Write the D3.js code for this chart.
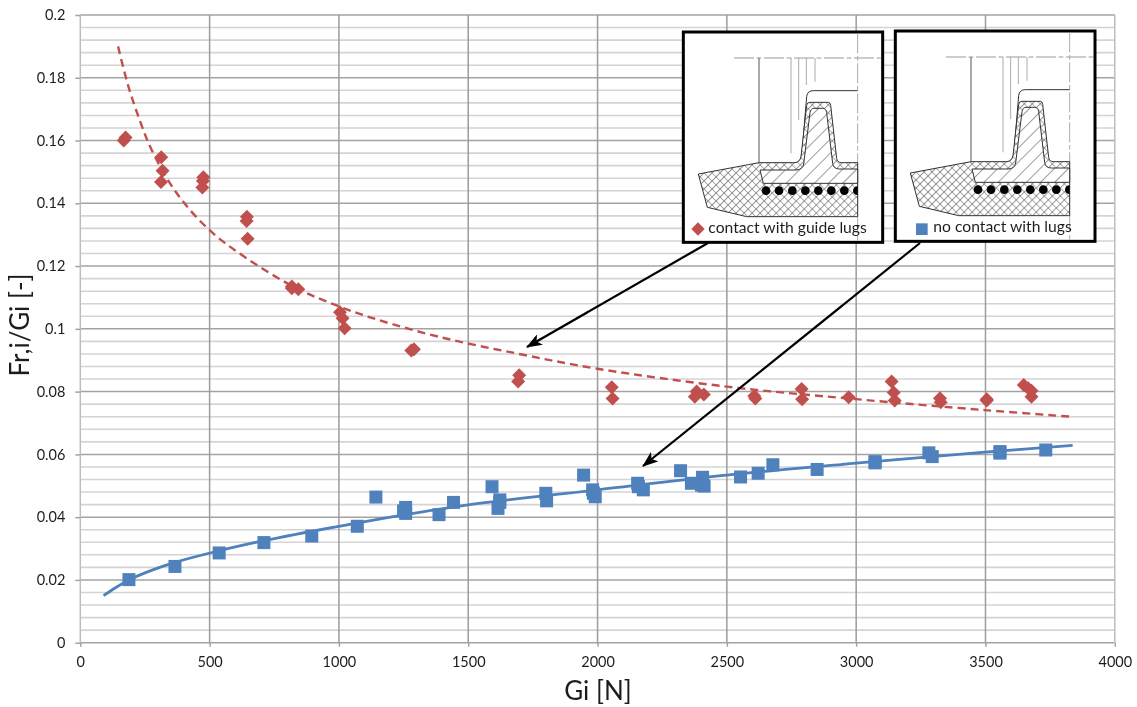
<!DOCTYPE html>
<html>
<head>
<meta charset="utf-8">
<script src="https://cdnjs.cloudflare.com/ajax/libs/d3/7.8.5/d3.min.js"></script>
<style>
    html, body { margin: 0; padding: 0; background: #fff; }
    svg { display: block; }
    text { font-family: Lato, "Open Sans", sans-serif; fill: #1f1f1f; }
</style>
</head>
<body>
<div id="data-vis"></div>
<script>
//DATA
//Red diamonds: contact with guide lugs
const contactGi = [168, 175, 313, 318, 312, 476, 474, 472, 644, 643, 647, 818, 843, 818, 1004, 1014, 1022, 1280, 1290,
    1697, 1693, 2055, 2058, 2383, 2376, 2411, 2606, 2610, 2789, 2791, 2971, 3137, 3145, 3149, 3324, 3327, 3505, 3505,
    3648, 3665, 3678, 3678];
const contactRatio = [0.1600, 0.1610, 0.1547, 0.1504, 0.1468, 0.1483, 0.1471, 0.1450, 0.1357, 0.1344, 0.1287, 0.1129, 0.1126, 0.1135, 0.1053, 0.1034, 0.1002, 0.0931, 0.0935,
    0.0852, 0.0832, 0.0814, 0.0778, 0.0800, 0.0784, 0.0791, 0.0786, 0.0778, 0.0808, 0.0776, 0.0782, 0.0832, 0.0797, 0.0772, 0.0779, 0.0766, 0.0776, 0.0772,
    0.0821, 0.0811, 0.0803, 0.0784];

//Blue squares: no contact with lugs
const freeGi = [188, 366, 537, 710, 895, 1071, 1143, 1258, 1258, 1250, 1387, 1443, 1592, 1622, 1622, 1615, 1800, 1803,
    1946, 1981, 1984, 1991, 2155, 2158, 2177, 2321, 2363, 2406, 2402, 2412, 2553, 2621, 2678, 2849, 3073, 3073,
    3281, 3294, 3556, 3556, 3733];
const freeRatio = [0.0201, 0.0243, 0.0286, 0.0319, 0.0340, 0.0371, 0.0464, 0.0431, 0.0412, 0.0420, 0.0408, 0.0447, 0.0497, 0.0455, 0.0447, 0.0428, 0.0476, 0.0452,
    0.0534, 0.0487, 0.0476, 0.0465, 0.0508, 0.0497, 0.0487, 0.0548, 0.0508, 0.0527, 0.0502, 0.0499, 0.0528, 0.0540, 0.0567, 0.0552, 0.0577, 0.0573,
    0.0605, 0.0593, 0.0609, 0.0604, 0.0614];

//Trend lines
const contactTrendGi = [146, 185, 231, 276, 373, 499, 643, 837, 999, 1146, 1400, 1697, 1999, 2499, 2999, 3498, 3833];
const contactTrendRatio = [0.190, 0.1775, 0.1662, 0.1570, 0.1432, 0.1315, 0.1225, 0.1129, 0.1072, 0.1030, 0.0972, 0.0920, 0.0873, 0.0816, 0.0776, 0.0741, 0.0720];
const freeTrendGi = [90, 130, 188, 280, 366, 537, 710, 1000, 1250, 1499, 1999, 2499, 2999, 3498, 3837];
const freeTrendRatio = [0.0150, 0.0172, 0.0200, 0.0232, 0.0256, 0.0293, 0.0325, 0.0371, 0.0407, 0.0439, 0.0487, 0.0534, 0.0572, 0.0607, 0.0629];

//Tick labels
const xTicks = [0, 500, 1000, 1500, 2000, 2500, 3000, 3500, 4000];
const yTicks = [0, 0.02, 0.04, 0.06, 0.08, 0.1, 0.12, 0.14, 0.16, 0.18, 0.2];
const yMinorTicks = [0.004, 0.008, 0.012, 0.016, 0.024, 0.028, 0.032, 0.036, 0.044, 0.048, 0.052, 0.056, 0.064, 0.068, 0.072, 0.076,
    0.084, 0.088, 0.092, 0.096, 0.104, 0.108, 0.112, 0.116, 0.124, 0.128, 0.132, 0.136, 0.144, 0.148, 0.152, 0.156, 0.164, 0.168, 0.172, 0.176,
    0.184, 0.188, 0.192, 0.196];

//SCRIPT PROPERTIES
const w = 1137;
const h = 707;
const red = "#c0504d";
const blue = "#4f81bd";

const x = d3.scaleLinear().domain([0, 4000]).range([80.3, 1114.8]);
const y = d3.scaleLinear().domain([0, 0.2]).range([642.7, 15]);

const svg = d3.select("#data-vis")
    .append("svg")
    .attr("width", w)
    .attr("height", h);

const defs = svg.append("defs");

//Slight softening, the reference is a scaled bitmap
defs.append("filter").attr("id", "soft")
    .append("feGaussianBlur").attr("stdDeviation", 0.45);

//Cross hatch for the rubber
const cross = defs.append("pattern").attr("id", "crossHatch")
    .attr("width", 17).attr("height", 17)
    .attr("patternUnits", "userSpaceOnUse")
    .attr("patternTransform", "rotate(45)");
cross.append("rect").attr("width", 17).attr("height", 17).attr("fill", "#fff");
cross.append("path").attr("d", "M0 0H17M0 0V17").attr("stroke", "#555").attr("stroke-width", 3.5).attr("fill", "none");

//Diagonal hatch for the cord
const diag = defs.append("pattern").attr("id", "diagHatch")
    .attr("width", 30).attr("height", 30)
    .attr("patternUnits", "userSpaceOnUse")
    .attr("patternTransform", "rotate(-45)");
diag.append("rect").attr("width", 30).attr("height", 30).attr("fill", "#fff");
diag.append("path").attr("d", "M0 0H30").attr("stroke", "#555").attr("stroke-width", 3.5);

//The section is cut off at its centre line
defs.append("clipPath").attr("id", "sectionClip")
    .append("rect").attr("x", 0).attr("y", 0).attr("width", 533).attr("height", 660);

defs.append("marker").attr("id", "arrowHead")
    .attr("viewBox", "0 0 16 12")
    .attr("refX", 15).attr("refY", 6)
    .attr("markerWidth", 16).attr("markerHeight", 12)
    .attr("markerUnits", "userSpaceOnUse")
    .attr("orient", "auto")
    .append("path")
    .attr("d", "M0 0L16 6L0 12L4 6Z")
    .attr("fill", "#000");

const root = svg.append("g").attr("filter", "url(#soft)");

//Gridlines
root.append("g").selectAll("line")
    .data(yMinorTicks)
    .enter().append("line")
    .attr("x1", x(0)).attr("x2", x(4000))
    .attr("y1", d => y(d)).attr("y2", d => y(d))
    .attr("stroke", "#d4d4d4")
    .attr("stroke-width", 1.6);

root.append("g").selectAll("line")
    .data(yTicks)
    .enter().append("line")
    .attr("x1", x(0)).attr("x2", x(4000))
    .attr("y1", d => y(d)).attr("y2", d => y(d))
    .attr("stroke", "#a3a3a3")
    .attr("stroke-width", 1.5);

root.append("g").selectAll("line")
    .data(xTicks)
    .enter().append("line")
    .attr("x1", d => x(d)).attr("x2", d => x(d))
    .attr("y1", y(0.2)).attr("y2", y(0))
    .attr("stroke", d => d === 0 || d === 4000 ? "#bdbdbd" : "#9c9c9c")
    .attr("stroke-width", 1.5);

//Axes
const xAxis = root.append("g")
    .attr("transform", `translate(0,${y(0)})`)
    .call(d3.axisBottom(x).tickValues(xTicks).tickFormat(d => d).tickSize(4).tickPadding(10));
const yAxis = root.append("g")
    .attr("transform", `translate(${x(0)},0)`)
    .call(d3.axisLeft(y).tickValues(yTicks).tickFormat(d => d).tickSize(5).tickPadding(10));

[xAxis, yAxis].forEach(a => {
    a.select(".domain").remove();
    a.selectAll("line").attr("stroke", "#a3a3a3").attr("stroke-width", 1.5);
    a.selectAll("text").style("font-size", "14.5px").attr("fill", "#1f1f1f");
});

//Axis titles
root.append("text")
    .attr("x", 598).attr("y", 700)
    .attr("text-anchor", "middle")
    .style("font-size", "26px")
    .text("Gi [N]");

root.append("text")
    .attr("transform", "translate(29,325) rotate(-90)")
    .attr("text-anchor", "middle")
    .style("font-size", "26px")
    .text("Fr,i/Gi [-]");

//Trend lines
const trend = d3.line()
    .x(d => x(d[0]))
    .y(d => y(d[1]))
    .curve(d3.curveCatmullRom);

root.append("path")
    .datum(d3.zip(contactTrendGi, contactTrendRatio))
    .attr("d", trend)
    .attr("fill", "none")
    .attr("stroke", red)
    .attr("stroke-width", 2.4)
    .attr("stroke-dasharray", "8 5");

root.append("path")
    .datum(d3.zip(freeTrendGi, freeTrendRatio))
    .attr("d", trend)
    .attr("fill", "none")
    .attr("stroke", blue)
    .attr("stroke-width", 2.8);

//Points
root.append("g").selectAll("path")
    .data(d3.zip(contactGi, contactRatio))
    .enter().append("path")
    .attr("transform", d => `translate(${x(d[0])},${y(d[1])})`)
    .attr("d", "M0 -7L7 0L0 7L-7 0Z")
    .attr("fill", red);

root.append("g").selectAll("rect")
    .data(d3.zip(freeGi, freeRatio))
    .enter().append("rect")
    .attr("x", d => x(d[0]) - 6.5)
    .attr("y", d => y(d[1]) - 6.5)
    .attr("width", 13)
    .attr("height", 13)
    .attr("fill", blue);

//Section drawing, local units are 1/3 of a pixel
function inset(dx, dy, boxRight, drawMark, label, labelX) {
    const g = root.append("g")
        .attr("transform", `translate(${dx},${dy}) scale(${1 / 3})`);

    g.append("rect")
        .attr("x", 10).attr("y", 36)
        .attr("width", boxRight - 10).attr("height", 631)
        .attr("fill", "#fff")
        .attr("stroke", "#000")
        .attr("stroke-width", 9);

    //Centre lines
    g.append("path")
        .attr("d", "M162 114H605")
        .attr("stroke", "#999").attr("stroke-width", 3)
        .attr("stroke-dasharray", "60 8 14 8");
    g.append("path")
        .attr("d", "M533 40V664")
        .attr("stroke", "#aaa").attr("stroke-width", 3)
        .attr("stroke-dasharray", "60 8 14 8");

    //Rim edges
    g.append("path")
        .attr("d", "M237 114V428")
        .attr("stroke", "#555").attr("stroke-width", 3);
    g.append("path")
        .attr("d", "M333 114V400M356 114V300M379 114V195M405 114V185")
        .attr("stroke", "#aaa").attr("stroke-width", 3);
    g.append("path")
        .attr("d", "M350 428Q362 425 366 400L380 230Q382 212 400 212H533")
        .attr("fill", "none").attr("stroke", "#333").attr("stroke-width", 3);

    //Belt body
    g.append("path")
        .attr("d", "M55 462L237 428H345Q360 426 363 410L380 256Q381 247 390 247H445Q451 247 452 256L470 415Q472 428 485 428H533V590H200L82 562Z")
        .attr("fill", "url(#crossHatch)")
        .attr("stroke", "#333").attr("stroke-width", 3);

    //Cord layer and tooth core
    g.append("path")
        .attr("d", "M240 450H350Q368 448 371 432L390 278Q392 265 402 265H428Q438 265 440 278L458 430Q460 447 478 447H533V490H250Z")
        .attr("fill", "url(#diagHatch)")
        .attr("stroke", "#333").attr("stroke-width", 3);

    //Tension wires
    g.append("g")
        .attr("clip-path", "url(#sectionClip)")
        .selectAll("circle")
        .data([258, 297, 337, 376, 415, 454, 493, 532])
        .enter().append("circle")
        .attr("cx", d => d).attr("cy", 512).attr("r", 13)
        .attr("fill", "#000");

    //Legend
    drawMark(g);
    g.append("text")
        .attr("x", labelX).attr("y", 640)
        .style("font-size", "47px")
        .text(label);
}

inset(680, 20, 608, g => {
    g.append("path")
        .attr("d", "M54 607L74 627L54 647L34 627Z")
        .attr("fill", red);
}, "contact with guide lugs", 85);

inset(892, 19, 609, g => {
    g.append("rect")
        .attr("x", 72).attr("y", 613)
        .attr("width", 35).attr("height", 35)
        .attr("fill", blue);
}, "no contact with lugs", 124);

//Arrows from the insets to the trend lines
root.append("line")
    .attr("x1", 708).attr("y1", 243).attr("x2", 527).attr("y2", 347)
    .attr("stroke", "#000").attr("stroke-width", 2.2)
    .attr("marker-end", "url(#arrowHead)");

root.append("line")
    .attr("x1", 920).attr("y1", 243).attr("x2", 643).attr("y2", 466)
    .attr("stroke", "#000").attr("stroke-width", 2.2)
    .attr("marker-end", "url(#arrowHead)");
</script>
</body>
</html>
